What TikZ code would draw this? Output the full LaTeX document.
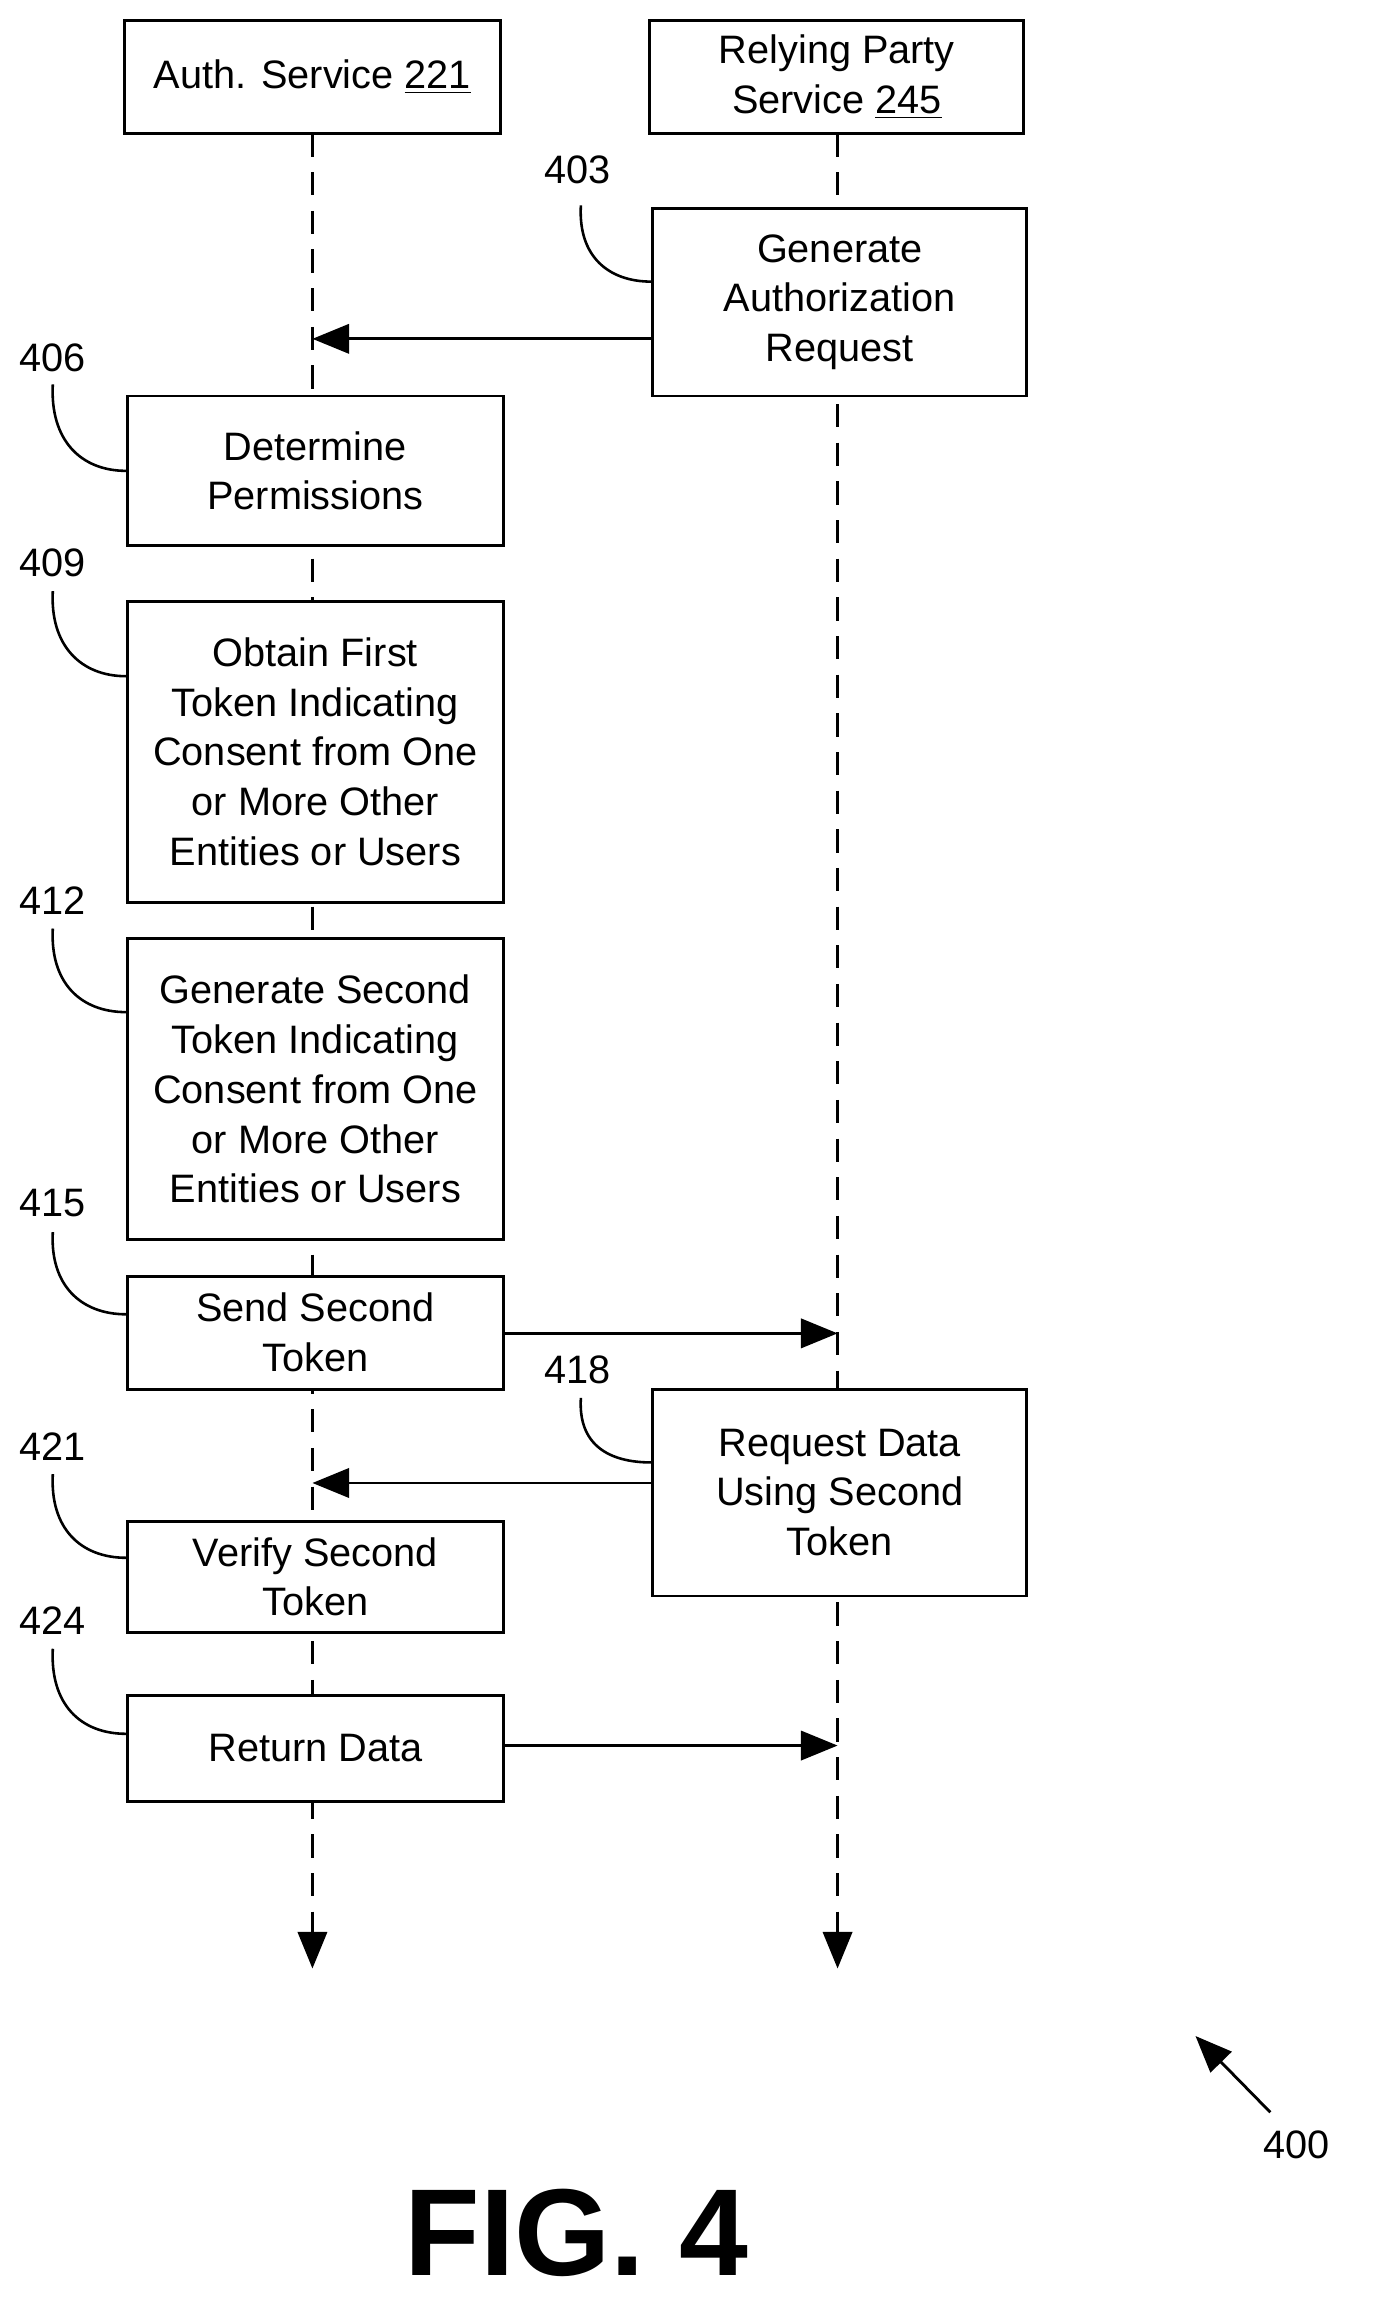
\documentclass[tikz,border=0pt]{standalone}
\usepackage{fontspec}
\setmainfont{Liberation Sans}
\usetikzlibrary{arrows.meta}
\begin{document}
\begin{tikzpicture}[x=0.02cm,y=-0.02cm,line width=1.1pt,
  box/.style={draw,fill=white,align=center,inner sep=0pt,font=\fontsize{15.4}{19.3}\selectfont},
  lbl/.style={font=\fontsize{15.4}{17}\selectfont,inner sep=0pt},
  life/.style={dash pattern=on 9pt off 6pt},
  tip/.style={-{Triangle[length=0.5cm,width=0.4cm]}},
  lead/.style={line width=1pt}]
\useasboundingbox (0,0) rectangle (937,1568);
% lifelines
\coordinate (aend) at (213,1342);
\coordinate (rend) at (571,1342);
\draw[life,tip] (213,91) -- (aend);
\draw[life,tip] (571,91) -- (rend);
% header boxes
\node[box,minimum width=256*0.02cm,minimum height=77*0.02cm] (auth) at (213,52.5) {Auth. Service \underline{221}};
\node[box,minimum width=255*0.02cm,minimum height=77*0.02cm] (rp) at (570.5,52.5) {Relying Party\\Service \underline{245}};
% step boxes
\node[box,minimum width=255*0.02cm,minimum height=128*0.02cm] (b403) at (572.5,206) {Generate\\Authorization\\Request};
\node[box,minimum width=256*0.02cm,minimum height=102*0.02cm] (b406) at (215,321) {Determine\\Permissions};
\node[box,minimum width=256*0.02cm,minimum height=205*0.02cm] (b409) at (215,512.5) {Obtain First\\Token Indicating\\Consent from One\\or More Other\\Entities or Users};
\node[box,minimum width=256*0.02cm,minimum height=205*0.02cm] (b412) at (215,742.5) {Generate Second\\Token Indicating\\Consent from One\\or More Other\\Entities or Users};
\node[box,minimum width=256*0.02cm,minimum height=77*0.02cm] (b415) at (215,908.5) {Send Second\\Token};
\node[box,minimum width=255*0.02cm,minimum height=141*0.02cm] (b418) at (572.5,1017.5) {Request Data\\Using Second\\Token};
\node[box,minimum width=256*0.02cm,minimum height=76*0.02cm] (b421) at (215,1075) {Verify Second\\Token};
\node[box,minimum width=256*0.02cm,minimum height=72*0.02cm] (b424) at (215,1192) {Return Data};
% messages
\coordinate (m1) at (213,231);
\coordinate (m2) at (571,909);
\coordinate (m3) at (213,1011);
\coordinate (m4) at (571,1190);
\draw[tip] (b403.west |- m1) -- (m1);
\draw[tip] (b415.east |- m2) -- (m2);
\draw[tip] (b418.west |- m3) -- (m3);
\draw[tip] (b424.east |- m4) -- (m4);
% labels
\node[lbl] (l403) at (394,116) {403};
\node[lbl] (l406) at (36,244) {406};
\node[lbl] (l409) at (36,384) {409};
\node[lbl] (l412) at (36,614) {412};
\node[lbl] (l415) at (36,820) {415};
\node[lbl] (l418) at (394,934) {418};
\node[lbl] (l421) at (36,986) {421};
\node[lbl] (l424) at (36,1105) {424};
\draw[lead] (396,140) .. controls (394,175) and (415,192) .. (b403.west |- 0,192);
\draw[lead] (36,262) .. controls (34,300) and (55,321) .. (b406.west);
\draw[lead] (36,403) .. controls (34,440) and (55,461) .. (b409.west |- 0,461);
\draw[lead] (36,633) .. controls (34,670) and (55,690) .. (b412.west |- 0,690);
\draw[lead] (36,840) .. controls (34,876) and (55,896) .. (b415.west |- 0,896);
\draw[lead] (396,953) .. controls (394,985) and (415,997) .. (b418.west |- 0,997);
\draw[lead] (36,1005) .. controls (34,1042) and (55,1062) .. (b421.west |- 0,1062);
\draw[lead] (36,1124) .. controls (34,1162) and (55,1182) .. (b424.west |- 0,1182);
% figure ref
\node[lbl] (l400) at (884,1462) {400};
\coordinate (p400) at (815,1388);
\draw[-{Triangle[length=0.5cm,width=0.4cm]}] (866,1440) -- (p400);
\node[font=\fontsize{48}{50}\selectfont\bfseries,inner sep=0pt] (fig) at (393,1522) {FIG. 4};
\end{tikzpicture}
\end{document}
